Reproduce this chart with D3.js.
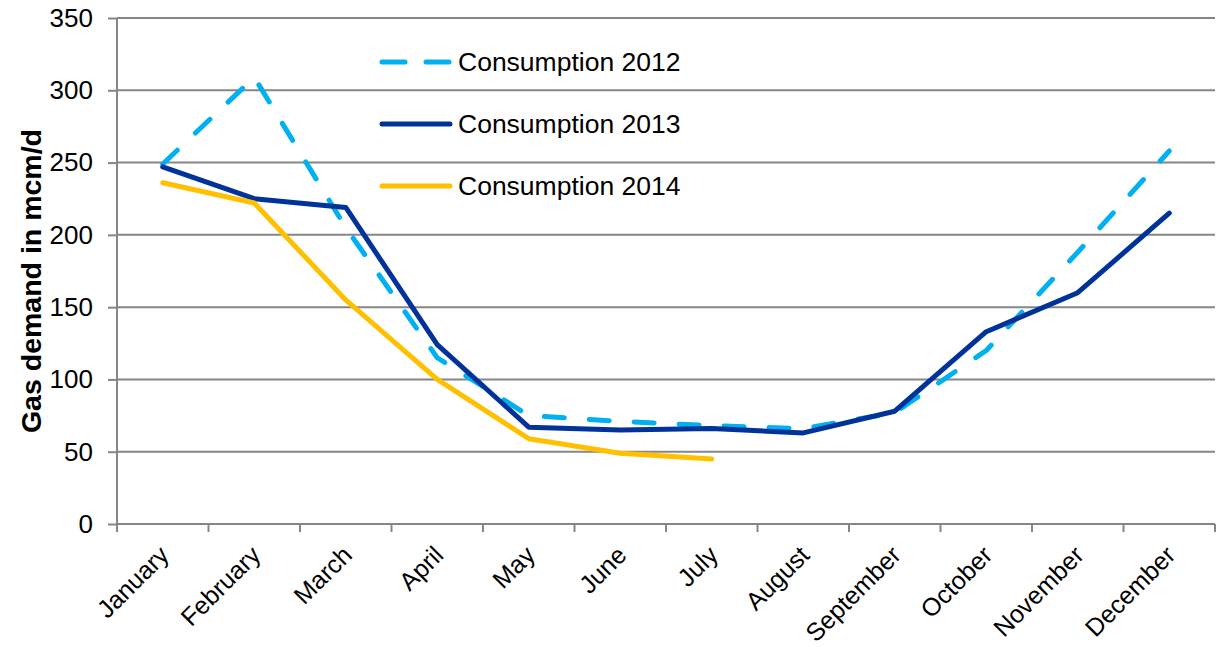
<!DOCTYPE html>
<html>
<head>
<meta charset="utf-8">
<script src="https://cdn.jsdelivr.net/npm/d3@7"></script>
<style>
  body { margin: 0; background: #fff; }
  text { font-family: "Liberation Sans", Arial, sans-serif; fill: #000; }
</style>
</head>
<body>
<script>
var months = ['January', 'February', 'March', 'April', 'May', 'June', 'July',
  'August', 'September', 'October', 'November', 'December'];
var yTicks = [0, 50, 100, 150, 200, 250, 300, 350];

var cons2012 = [249, 309, 205, 115, 75, 71, 68, 66, 77, 120, 188, 258];
var cons2013 = [247, 225, 219, 124, 67, 65, 66, 63, 78, 133, 160, 215];
var cons2014 = [236, 222, 155, 100, 59, 49, 45, null, null, null, null, null];

var seriesNames = ['Consumption 2012', 'Consumption 2013', 'Consumption 2014'];

var width = 1218, height = 647;
var plotLeft = 117, plotRight = 1215, plotTop = 18, plotBottom = 524;
var grey = '#868686';

var styles = {
  'Consumption 2012': { stroke: '#00b0f0', dash: '20 25' },
  'Consumption 2013': { stroke: '#003399', dash: null },
  'Consumption 2014': { stroke: '#ffc000', dash: null }
};

var series = [
  { name: seriesNames[0], values: cons2012 },
  { name: seriesNames[1], values: cons2013 },
  { name: seriesNames[2], values: cons2014 }
];

var svg = d3.select('body').append('svg').attr('width', width).attr('height', height);

var x = d3.scaleBand().domain(months).range([plotLeft, plotRight]);
var y = d3.scaleLinear().domain([0, 350]).range([plotBottom, plotTop]);

// grid
svg.append('g').selectAll('line').data(yTicks.filter(function(d){ return d > 0; })).enter().append('line')
  .attr('x1', plotLeft).attr('x2', plotRight)
  .attr('y1', function(d){ return y(d); }).attr('y2', function(d){ return y(d); })
  .attr('stroke', grey).attr('stroke-width', 2);

// y axis
var yAxis = svg.append('g').attr('transform', 'translate(' + plotLeft + ',0)')
  .call(d3.axisLeft(y).tickValues(yTicks).tickSize(9).tickPadding(15));
yAxis.select('.domain').attr('stroke', grey).attr('stroke-width', 2).attr('d', 'M0,' + plotTop + 'V' + (plotBottom + 8));
yAxis.selectAll('.tick line').attr('stroke', grey).attr('stroke-width', 2);
yAxis.selectAll('.tick text').attr('font-size', 26).attr('font-family', '"Liberation Sans", Arial, sans-serif')
  .attr('fill', '#000');

// x axis
svg.append('line').attr('x1', plotLeft).attr('x2', plotRight).attr('y1', plotBottom).attr('y2', plotBottom)
  .attr('stroke', grey).attr('stroke-width', 2);
var edges = months.map(function(m){ return x(m); }).concat([plotRight]);
svg.append('g').selectAll('line').data(edges).enter().append('line')
  .attr('x1', function(d){ return d; }).attr('x2', function(d){ return d; })
  .attr('y1', plotBottom).attr('y2', plotBottom + 8)
  .attr('stroke', grey).attr('stroke-width', 2);

svg.append('g').selectAll('text').data(months).enter().append('text')
  .attr('transform', function(d){ return 'translate(' + (x(d) + x.bandwidth() / 2 - 2) + ',' + 547 + ') rotate(-45)'; })
  .attr('text-anchor', 'end')
  .attr('dy', '0.55em')
  .attr('font-size', 25)
  .text(function(d){ return d; });

// axis title
svg.append('text')
  .attr('transform', 'translate(31,281) rotate(-90)')
  .attr('text-anchor', 'middle')
  .attr('dy', '0.35em')
  .attr('font-size', 28.5)
  .attr('font-weight', 'bold')
  .text('Gas demand in mcm/d');

// lines
var line = d3.line()
  .defined(function(d){ return d.v !== null; })
  .x(function(d){ return x(d.m) + x.bandwidth() / 2; })
  .y(function(d){ return y(d.v); });

svg.append('g').selectAll('path').data(series).enter().append('path')
  .attr('d', function(s){ return line(s.values.map(function(v, i){ return { m: months[i], v: v }; })); })
  .attr('fill', 'none')
  .attr('stroke', function(s){ return styles[s.name].stroke; })
  .attr('stroke-width', 5)
  .attr('stroke-linejoin', 'round')
  .attr('stroke-linecap', 'round')
  .attr('stroke-dasharray', function(s){ return styles[s.name].dash; });

// legend
var legend = svg.append('g').selectAll('g').data(series).enter().append('g')
  .attr('transform', function(d, i){ return 'translate(380,' + (62 + i * 62) + ')'; });
legend.append('line')
  .attr('x1', 2).attr('x2', 70).attr('y1', 0).attr('y2', 0)
  .attr('stroke', function(s){ return styles[s.name].stroke; })
  .attr('stroke-width', 5)
  .attr('stroke-linecap', 'round')
  .attr('stroke-dasharray', function(s){ return styles[s.name].dash ? '23 21' : null; });
legend.append('text')
  .attr('x', 78).attr('dy', '0.35em')
  .attr('font-size', 26.5)
  .text(function(s){ return s.name; });
</script>
</body>
</html>
